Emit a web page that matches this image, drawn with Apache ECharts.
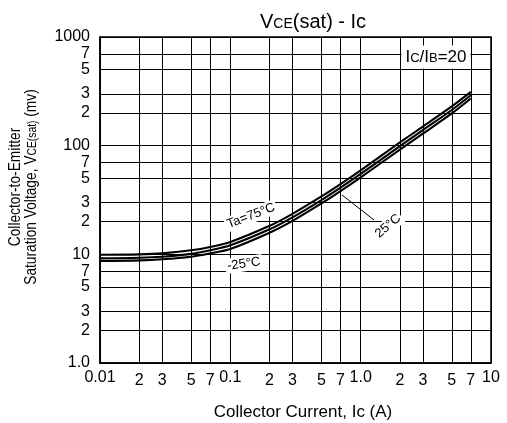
<!DOCTYPE html>
<html>
<head>
<meta charset="utf-8">
<script src="https://cdn.jsdelivr.net/npm/echarts@6/dist/echarts.min.js"></script>
<style>
  html, body { margin: 0; padding: 0; background: #fff; }
  #chart { width: 507px; height: 423px; }
</style>
</head>
<body>
<div id="chart"></div>
<script>
// Collector current Ic (A) at the sampled points of each curve
const currentA = [0.01, 0.02, 0.03, 0.05, 0.07, 0.1, 0.2, 0.3, 0.5, 0.7, 1, 2, 3, 5, 7];
// VCE(sat) (mV) at Ic/IB = 20 for each ambient temperature
const vceTa75  = [9.9, 10.0, 10.2, 10.9, 11.7, 13.0, 18.3, 23.6, 34.1, 44.3, 59.3, 107, 150, 230, 313];
const vceTa25  = [9.2, 9.3, 9.5, 10.1, 10.9, 12.1, 17.0, 21.9, 31.6, 41.1, 55.0, 99, 139, 213, 291];
const vceTaM25 = [8.7, 8.8, 9.0, 9.5, 10.2, 11.2, 15.8, 20.3, 29.4, 38.2, 51.1, 92, 129, 198, 272];

// Axis ticks: decades carry full labels, the 2-3-5-7 lines carry their leading digit
const xDecadeTicks  = [0.01, 0.1, 1, 10];
const xDecadeLabels = ['0.01', '0.1', '1.0', '10'];
const yDecadeTicks  = [1, 10, 100, 1000];
const yDecadeLabels = ['1.0', '10', '100', '1000'];
const xMinorTicks = [0.02, 0.03, 0.05, 0.07, 0.2, 0.3, 0.5, 0.7, 2, 3, 5, 7];
const yMinorTicks = [2, 3, 5, 7, 20, 30, 50, 70, 200, 300, 500, 700];

// Curve annotations, anchored in data coordinates (Ic in A, VCE in mV)
const noteTexts  = ['Ta=75°C', '-25°C', '25°C'];
const noteAt     = [[0.144, 22.6], [0.127, 8.16], [1.62, 18.2]];
const noteAngles = [21, 8, 40];
const arrowFrom  = [1.267, 20.7];
const arrowTo    = [0.719, 35.2];

const FONT = 'Liberation Sans, Arial, Helvetica, sans-serif';
const INK = '#000';

function leadDigit(v) {
  const p = Math.pow(10, Math.floor(Math.log10(v) + 1e-9));
  return String(Math.round(v / p));
}
function decadeFormatter(ticks, labels) {
  return function (v) {
    for (let i = 0; i < ticks.length; i++) {
      if (Math.abs(Math.log10(v) - Math.log10(ticks[i])) < 1e-6) return labels[i];
    }
    return '';
  };
}
function curve(name, vals) {
  return {
    type: 'line', name: name,
    data: currentA.map((x, i) => [x, vals[i]]),
    smooth: 0.3,
    symbol: 'none', showSymbol: false, silent: true, z: 5,
    lineStyle: { color: INK, width: 2.1 }
  };
}

const chart = echarts.init(document.getElementById('chart'), null, { renderer: 'canvas' });

const minorLabelStyle = { color: INK, fontSize: 16, fontFamily: FONT };
const gridLineSeries = {
  type: 'line', name: 'grid', data: [], silent: true, z: 1,
  markLine: {
    silent: true, animation: false, symbol: ['none', 'none'],
    lineStyle: { color: INK, width: 1, type: 'solid' },
    emphasis: { disabled: true },
    data: [].concat(
      xMinorTicks.map(v => [
        { coord: [v, 1], label: Object.assign({ show: true, position: 'start', distance: 10, formatter: leadDigit(v) }, minorLabelStyle) },
        { coord: [v, 1000] }
      ]),
      yMinorTicks.map(v => [
        { coord: [0.01, v], label: Object.assign({ show: true, position: 'start', distance: 10, formatter: leadDigit(v) }, minorLabelStyle) },
        { coord: [10, v] }
      ])
    )
  }
};

const ta25 = curve('25°C', vceTa25);
ta25.markLine = {
  silent: true, animation: false,
  symbol: ['none', 'arrow'], symbolSize: [0, 10],
  lineStyle: { color: INK, width: 1, type: 'solid' },
  itemStyle: { color: INK },
  label: { show: false },
  emphasis: { disabled: true },
  data: [[{ coord: arrowFrom }, { coord: arrowTo }]]
};

const option = {
  animation: false,
  backgroundColor: '#fff',
  title: {
    text: '{n|V}{s|CE}{n|(sat) - Ic}',
    left: 255, top: 7,
    textStyle: {
      fontWeight: 'normal',
      rich: {
        n: { fontSize: 20, fontFamily: FONT, fontWeight: 'normal', color: INK, verticalAlign: 'bottom' },
        s: { fontSize: 14, fontFamily: FONT, fontWeight: 'normal', color: INK, verticalAlign: 'bottom', padding: [0, 0, 1, 0] }
      }
    }
  },
  grid: {
    left: 100, right: 16, top: 37, bottom: 60,
    show: true, borderColor: INK, borderWidth: 1.5, backgroundColor: 'transparent'
  },
  xAxis: {
    type: 'log', logBase: 10, min: 0.01, max: 10,
    axisLine: { show: true, lineStyle: { color: INK, width: 1.5 } },
    axisTick: { show: false },
    minorTick: { show: false },
    splitLine: { show: true, lineStyle: { color: INK, width: 1 } },
    axisLabel: {
      color: INK, fontSize: 16, fontFamily: FONT, margin: 7,
      showMinLabel: true, showMaxLabel: true,
      formatter: decadeFormatter(xDecadeTicks, xDecadeLabels)
    }
  },
  yAxis: {
    type: 'log', logBase: 10, min: 1, max: 1000,
    axisLine: { show: true, lineStyle: { color: INK, width: 1.5 } },
    axisTick: { show: false },
    minorTick: { show: false },
    splitLine: { show: true, lineStyle: { color: INK, width: 1 } },
    axisLabel: {
      color: INK, fontSize: 16, fontFamily: FONT, margin: 10,
      showMinLabel: true, showMaxLabel: true,
      formatter: decadeFormatter(yDecadeTicks, yDecadeLabels)
    }
  },
  series: [gridLineSeries, curve('75°C', vceTa75), ta25, curve('-25°C', vceTaM25)]
};

chart.setOption(option);

// Texts placed around the plot: axis names, condition box, curve notes
const px = p => chart.convertToPixel({ gridIndex: 0 }, p);
const graphics = [
  {
    type: 'text', x: 303, y: 412, z: 10,
    style: { text: 'Collector Current, Ic (A)', fill: INK, font: '17px ' + FONT, align: 'center', verticalAlign: 'middle' }
  },
  {
    type: 'text', x: 16, y: 187, rotation: Math.PI / 2, scaleX: 0.86, z: 10,
    style: { text: 'Collector-to-Emitter', fill: INK, font: '16px ' + FONT, align: 'center', verticalAlign: 'middle' }
  },
  {
    type: 'text', x: 32, y: 187, rotation: Math.PI / 2, scaleX: 0.86, z: 10,
    style: {
      text: '{n|Saturation Voltage, V}{s|CE(sat)}{n| (mv)}',
      align: 'center', verticalAlign: 'middle',
      rich: {
        n: { fontSize: 16, fontFamily: FONT, fill: INK, verticalAlign: 'bottom' },
        s: { fontSize: 12, fontFamily: FONT, fill: INK, verticalAlign: 'bottom', padding: [0, 0, 1, 0] }
      }
    }
  },
  {
    type: 'text', x: 436, y: 57, z: 10,
    style: {
      text: '{n|I}{s|C}{n|/I}{s|B}{n|=20}',
      align: 'center', verticalAlign: 'middle',
      backgroundColor: '#fff', padding: [3, 4, 3, 4],
      rich: {
        n: { fontSize: 17, fontFamily: FONT, fill: INK, verticalAlign: 'bottom' },
        s: { fontSize: 13, fontFamily: FONT, fill: INK, verticalAlign: 'bottom', padding: [0, 0, 1, 0] }
      }
    }
  }
];
noteTexts.forEach((t, i) => {
  const p = px(noteAt[i]);
  graphics.push({
    type: 'text', x: p[0], y: p[1], rotation: noteAngles[i] * Math.PI / 180, z: 10,
    style: {
      text: t, fill: INK, font: '13px ' + FONT,
      align: 'center', verticalAlign: 'middle',
      backgroundColor: '#fff', padding: [1, 2, 1, 2]
    }
  });
});
chart.setOption({ graphic: graphics });
</script>
</body>
</html>
